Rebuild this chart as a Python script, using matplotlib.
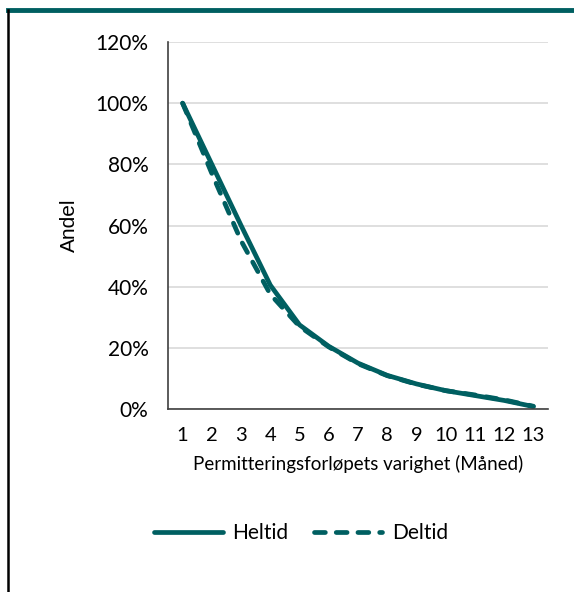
import numpy as np
import matplotlib.pyplot as plt
from matplotlib.lines import Line2D

# Months and share remaining in furlough
maaneder = list(range(1, 14))
heltid = [100, 80, 60, 40.5, 27.5, 20.5, 15, 11, 8.2, 6.0, 4.4, 2.8, 0.8]
deltid = [100, 77, 55, 37.5, 27, 20.3, 14.8, 10.9, 8.1, 6.0, 4.6, 3.0, 0.9]
yticks = [0, 20, 40, 60, 80, 100, 120]

teal = '#005f61'
dash = (0, (2.3, 2.3))
plt.rcParams['font.family'] = ['Lato', 'DejaVu Sans']

fig = plt.figure(figsize=(5.74, 5.92), dpi=100)
ax = fig.add_axes([168 / 574, 1 - 409 / 592, 380 / 574, 367 / 592])

ax.plot(maaneder, heltid, color=teal, lw=3.4, solid_capstyle='round', label='Heltid')
ax.plot(maaneder, deltid, color=teal, lw=3.4, ls=dash, dash_capstyle='round', label='Deltid')

ax.set_xlim(0.5, 13.5)
ax.set_ylim(0, 120)
ax.set_xticks(maaneder)
ax.set_yticks(yticks)
ax.set_yticklabels([f'{v}%' for v in yticks])
ax.tick_params(length=0, colors='black')
ax.tick_params(axis='y', labelsize=15, pad=14)
ax.tick_params(axis='x', labelsize=14.5, pad=13)
ax.grid(axis='y', color='#d9d9d9', lw=1.2)
ax.set_axisbelow(True)
for s in ['top', 'right']:
    ax.spines[s].set_visible(False)
for s in ['left', 'bottom']:
    ax.spines[s].set_color('#404040')
    ax.spines[s].set_linewidth(1.2)

ax.set_ylabel('Andel', fontsize=15, labelpad=12, family=['Liberation Sans', 'DejaVu Sans'])
ax.set_xlabel('Permitteringsforløpets varighet (Måned)', fontsize=13.5, labelpad=8)

handles = [Line2D([], [], color=teal, lw=3.4, solid_capstyle='round'),
           Line2D([], [], color=teal, lw=3.4, ls=dash, dash_capstyle='round')]
fig.legend(handles, ['Heltid', 'Deltid'], loc='center', bbox_to_anchor=(301 / 574, 1 - 533 / 592),
           ncol=2, frameon=False, fontsize=15, handlelength=3.3, columnspacing=1.2,
           handletextpad=0.45)

# frame decoration: teal bar on top, black rule on the left
fig.add_artist(Line2D([8 / 574, 1], [1 - 10 / 592, 1 - 10 / 592], color=teal, lw=3.5,
                      transform=fig.transFigure))
fig.add_artist(Line2D([8 / 574, 8 / 574], [0, 1 - 10 / 592], color='black', lw=1.8,
                      transform=fig.transFigure))

fig.savefig('out.png', dpi=100)
